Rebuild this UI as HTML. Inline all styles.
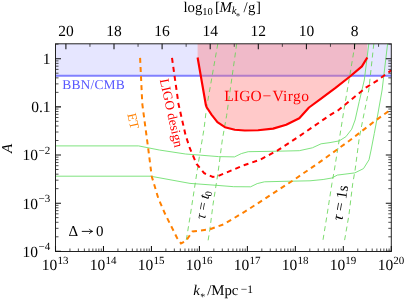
<!DOCTYPE html>
<html><head><meta charset="utf-8"><style>html,body{margin:0;padding:0;background:#fff}svg{display:block;will-change:transform}svg text{text-rendering:geometricPrecision}</style></head>
<body><svg width="407" height="302" viewBox="0 0 407 302">
<rect width="407" height="302" fill="#fff"/>
<rect x="55.5" y="43.8" width="335.8" height="31.900000000000006" fill="#e6e6ff"/>
<line x1="55.5" x2="391.3" y1="75.7" y2="75.7" stroke="#8080ff" stroke-width="2"/>
<path d="M197.6,43.8 L197.6,57.5 L205.9,105.2 L206.5,107.0 L211.5,114.6 L217.4,122.2 L224.9,127.2 L234.8,129.7 L244.8,130.5 L258.0,130.3 L273.1,128.6 L286.2,124.8 L299.3,118.3 L309.0,107.5 L320.4,99.2 L335.5,87.9 L350.6,76.0 L361.9,66.4 L367.3,57.5 L367.3,43.8Z" fill="rgb(255,120,120)" fill-opacity="0.4"/>
<path d="M55.5,145.9 L138.6,145.9 L159.3,150.0 L185.5,154.0 L200.8,155.2 L218.4,156.6 L234.5,156.9 L241.3,153.6 L248.2,151.7 L278.0,151.2 L299.3,150.7 L312.4,147.8 L321.1,143.8 L330.0,142.6 L339.2,140.9 L345.9,136.7 L351.7,129.2 L355.1,120.0 L359.2,101.7 L364.3,80.0 L368.8,43.8" fill="none" stroke="#70e070" stroke-width="0.9"/>
<path d="M55.5,176.2 L150.6,176.2 L190.0,183.4 L216.2,185.3 L233.7,186.7 L250.6,186.8 L257.2,183.6 L264.5,181.8 L285.0,181.3 L310.0,180.8 L323.1,179.5 L331.8,178.0 L337.3,175.1 L346.0,174.0 L354.8,172.9 L363.5,168.6 L369.0,159.8 L371.1,150.0 L374.3,133.4 L376.8,120.0 L382.1,90.0 L387.6,43.8" fill="none" stroke="#70e070" stroke-width="0.9"/>
<path d="M217.8,43.8 L206.4,108.7 L204.1,128.4 L199.7,154.6 L195.3,182.8 L190.3,215.3 L185.9,242.5" fill="none" stroke="#66d455" stroke-width="0.85" stroke-dasharray="5,3.8"/>
<path d="M236.7,43.8 L226.6,115.6 L222.3,140.0 L218.0,172.8 L212.9,205.3 L209.9,229.3 L207.7,243.0" fill="none" stroke="#66d455" stroke-width="0.85" stroke-dasharray="5,3.8"/>
<path d="M355.1,43.8 L349.7,75.9 L343.6,112.2 L339.2,140.0 L334.2,171.0 L331.9,183.7 L327.0,215.3 L322.5,243.0" fill="none" stroke="#66d455" stroke-width="0.85" stroke-dasharray="5,3.8"/>
<path d="M373.8,43.8 L368.8,90.0 L362.6,120.8 L359.2,138.4 L355.1,170.0 L352.7,183.7 L348.9,215.3 L344.1,243.0" fill="none" stroke="#66d455" stroke-width="0.85" stroke-dasharray="5,3.8"/>
<path d="M140.1,57.9 L142.3,104.0 L148.4,150.0 L151.7,176.2 L158.2,198.0 L164.8,213.3 L168.4,220.6 L177.1,238.0 L181.0,243.5 L185.9,241.0 L192.4,231.5 L209.9,229.3 L223.7,224.3 L244.8,211.7 L269.6,195.7 L294.4,179.5 L319.3,162.4 L348.0,141.7 L376.8,119.6 L391.6,109.1" fill="none" stroke="#ff8000" stroke-width="2.0" stroke-dasharray="5,4.1"/>
<path d="M172.0,57.9 L178.5,104.0 L185.5,134.9 L190.0,148.7 L196.6,164.0 L204.2,173.2 L212.9,176.9 L218.4,175.9 L244.6,165.0 L260.0,159.8 L278.0,150.2 L299.3,136.2 L330.0,115.1 L338.6,110.0 L365.9,87.6 L376.8,80.8 L391.3,70.3" fill="none" stroke="#f00" stroke-width="2.0" stroke-dasharray="5,4.1"/>
<path d="M197.6,57.5 L205.9,105.2 L206.5,107.0 L211.5,114.6 L217.4,122.2 L224.9,127.2 L234.8,129.7 L244.8,130.5 L258.0,130.3 L273.1,128.6 L286.2,124.8 L299.3,118.3 L309.0,107.5 L320.4,99.2 L335.5,87.9 L350.6,76.0 L361.9,66.4 L367.3,57.5" fill="none" stroke="#f00" stroke-width="2.15" stroke-linejoin="round"/>
<rect x="55.5" y="43.8" width="335.8" height="207.7" fill="none" stroke="#222" stroke-width="1"/>
<path d="M69.94,251.5v-3 M78.39,251.5v-3 M84.38,251.5v-3 M89.03,251.5v-3 M92.83,251.5v-3 M96.04,251.5v-3 M98.82,251.5v-3 M101.28,251.5v-3 M117.91,251.5v-3 M126.36,251.5v-3 M132.35,251.5v-3 M137.00,251.5v-3 M140.80,251.5v-3 M144.01,251.5v-3 M146.79,251.5v-3 M149.25,251.5v-3 M165.88,251.5v-3 M174.33,251.5v-3 M180.32,251.5v-3 M184.97,251.5v-3 M188.77,251.5v-3 M191.98,251.5v-3 M194.76,251.5v-3 M197.22,251.5v-3 M213.85,251.5v-3 M222.30,251.5v-3 M228.29,251.5v-3 M232.94,251.5v-3 M236.74,251.5v-3 M239.95,251.5v-3 M242.73,251.5v-3 M245.19,251.5v-3 M261.82,251.5v-3 M270.27,251.5v-3 M276.26,251.5v-3 M280.91,251.5v-3 M284.71,251.5v-3 M287.92,251.5v-3 M290.70,251.5v-3 M293.16,251.5v-3 M309.79,251.5v-3 M318.24,251.5v-3 M324.23,251.5v-3 M328.88,251.5v-3 M332.68,251.5v-3 M335.89,251.5v-3 M338.67,251.5v-3 M341.13,251.5v-3 M357.76,251.5v-3 M366.21,251.5v-3 M372.20,251.5v-3 M376.85,251.5v-3 M380.65,251.5v-3 M383.86,251.5v-3 M386.64,251.5v-3 M389.10,251.5v-3 M378.55,43.8v3 M330.45,43.8v3 M282.35,43.8v3 M234.25,43.8v3 M186.15,43.8v3 M138.05,43.8v3 M89.95,43.8v3 M55.5,236.81h3 M391.3,236.81h-3 M55.5,228.33h3 M391.3,228.33h-3 M55.5,222.31h3 M391.3,222.31h-3 M55.5,217.64h3 M391.3,217.64h-3 M55.5,213.83h3 M391.3,213.83h-3 M55.5,210.61h3 M391.3,210.61h-3 M55.5,207.82h3 M391.3,207.82h-3 M55.5,205.35h3 M391.3,205.35h-3 M55.5,188.66h3 M391.3,188.66h-3 M55.5,180.18h3 M391.3,180.18h-3 M55.5,174.16h3 M391.3,174.16h-3 M55.5,169.49h3 M391.3,169.49h-3 M55.5,165.68h3 M391.3,165.68h-3 M55.5,162.46h3 M391.3,162.46h-3 M55.5,159.67h3 M391.3,159.67h-3 M55.5,157.20h3 M391.3,157.20h-3 M55.5,140.51h3 M391.3,140.51h-3 M55.5,132.03h3 M391.3,132.03h-3 M55.5,126.01h3 M391.3,126.01h-3 M55.5,121.34h3 M391.3,121.34h-3 M55.5,117.53h3 M391.3,117.53h-3 M55.5,114.31h3 M391.3,114.31h-3 M55.5,111.52h3 M391.3,111.52h-3 M55.5,109.05h3 M391.3,109.05h-3 M55.5,92.36h3 M391.3,92.36h-3 M55.5,83.88h3 M391.3,83.88h-3 M55.5,77.86h3 M391.3,77.86h-3 M55.5,73.19h3 M391.3,73.19h-3 M55.5,69.38h3 M391.3,69.38h-3 M55.5,66.16h3 M391.3,66.16h-3 M55.5,63.37h3 M391.3,63.37h-3 M55.5,60.90h3 M391.3,60.90h-3 M55.5,44.21h3 M391.3,44.21h-3" stroke="#222" stroke-width="0.8" fill="none"/>
<path d="M55.50,251.5v-5.5 M103.47,251.5v-5.5 M151.44,251.5v-5.5 M199.41,251.5v-5.5 M247.38,251.5v-5.5 M295.35,251.5v-5.5 M343.32,251.5v-5.5 M391.29,251.5v-5.5 M354.50,43.8v5.5 M306.40,43.8v5.5 M258.30,43.8v5.5 M210.20,43.8v5.5 M162.10,43.8v5.5 M114.00,43.8v5.5 M65.90,43.8v5.5 M55.5,251.30h5.5 M391.3,251.30h-5.5 M55.5,203.15h5.5 M391.3,203.15h-5.5 M55.5,155.00h5.5 M391.3,155.00h-5.5 M55.5,106.85h5.5 M391.3,106.85h-5.5 M55.5,58.70h5.5 M391.3,58.70h-5.5" stroke="#111" stroke-width="1.05" fill="none"/>
<g font-family="Liberation Serif, serif" fill="#000" font-size="15.5">
<text x="354.5" y="35.6" text-anchor="middle">8</text>
<text x="306.4" y="35.6" text-anchor="middle">10</text>
<text x="258.3" y="35.6" text-anchor="middle">12</text>
<text x="210.2" y="35.6" text-anchor="middle">14</text>
<text x="162.1" y="35.6" text-anchor="middle">16</text>
<text x="114.0" y="35.6" text-anchor="middle">18</text>
<text x="65.9" y="35.6" text-anchor="middle">20</text>
<text x="55.2" y="270.4" text-anchor="middle">10<tspan font-size="11" dy="-6.4" dx="0.2">13</tspan></text>
<text x="103.2" y="270.4" text-anchor="middle">10<tspan font-size="11" dy="-6.4" dx="0.2">14</tspan></text>
<text x="151.1" y="270.4" text-anchor="middle">10<tspan font-size="11" dy="-6.4" dx="0.2">15</tspan></text>
<text x="199.1" y="270.4" text-anchor="middle">10<tspan font-size="11" dy="-6.4" dx="0.2">16</tspan></text>
<text x="247.1" y="270.4" text-anchor="middle">10<tspan font-size="11" dy="-6.4" dx="0.2">17</tspan></text>
<text x="295.1" y="270.4" text-anchor="middle">10<tspan font-size="11" dy="-6.4" dx="0.2">18</tspan></text>
<text x="343.0" y="270.4" text-anchor="middle">10<tspan font-size="11" dy="-6.4" dx="0.2">19</tspan></text>
<text x="391.0" y="270.4" text-anchor="middle">10<tspan font-size="11" dy="-6.4" dx="0.2">20</tspan></text>
<text x="50.5" y="63.7" text-anchor="end">1</text>
<text x="50.5" y="111.8" text-anchor="end">0.1</text>
<text x="50.2" y="160.4" text-anchor="end">10<tspan font-size="11" dy="-6.8" dx="0.6">−2</tspan></text>
<text x="50.2" y="208.5" text-anchor="end">10<tspan font-size="11" dy="-6.8" dx="0.6">−3</tspan></text>
<text x="50.2" y="256.7" text-anchor="end">10<tspan font-size="11" dy="-6.8" dx="0.6">−4</tspan></text>
</g>
<text font-family="Liberation Serif, serif" font-size="14.8" y="11.6"><tspan x="183.4">log</tspan><tspan font-size="10.5" x="202.2" y="14.8">10</tspan><tspan x="215" y="11.6">[</tspan><tspan font-style="italic" x="219.6">M</tspan><tspan font-size="10.8" font-style="italic" x="231.8" y="13.7">k</tspan><tspan font-size="9" x="235.8" y="18.6">*</tspan><tspan x="243.4" y="11.6">/</tspan><tspan x="248">g</tspan><tspan x="256">]</tspan></text>
<text font-family="Liberation Serif, serif" font-size="14.8" y="294.6"><tspan font-style="italic" x="193.2">k</tspan><tspan font-size="10" x="200.2" y="299.9">*</tspan><tspan x="207.2" y="294.6">/Mpc</tspan><tspan font-size="11.5" x="240.8" y="292.6">−1</tspan></text>
<text font-family="Liberation Serif, serif" font-size="15" font-style="italic" transform="translate(11.8,148.3) rotate(-90)" text-anchor="middle">A</text>
<text font-family="Liberation Serif, serif" font-size="13.5" fill="#5858ff" letter-spacing="0.15" x="62.3" y="88.7">BBN/CMB</text>
<text font-family="Liberation Serif, serif" font-size="15.5" fill="#f00" y="100.9"><tspan x="224.3" letter-spacing="0.1">LIGO</tspan><tspan x="262.4">−</tspan><tspan x="272.4" letter-spacing="0.4">Virgo</tspan></text>
<text font-family="Liberation Serif, serif" font-size="15" fill="#000" y="235.5"><tspan x="68.6">Δ</tspan><tspan x="96">0</tspan></text>
<path d="M81.8,231.4H92.3M89.3,228.9Q90.3,230.9 92.6,231.4Q90.3,231.9 89.3,233.9" fill="none" stroke="#000" stroke-width="0.9"/>
<text font-family="Liberation Serif, serif" font-size="13" fill="#ff8000" transform="translate(127.2,114.3) rotate(77)">ET</text>
<text font-family="Liberation Serif, serif" font-size="13.3" fill="#f00" transform="translate(159.8,79.8) rotate(77.6)">LIGO design</text>
<text font-family="Liberation Serif, serif" font-size="14.5" fill="#000" transform="translate(205.1,219.8) rotate(-80.5)"><tspan font-style="italic">τ</tspan> = <tspan font-style="italic">t</tspan><tspan font-size="10" dy="2.5" dx="-0.8">0</tspan></text>
<text font-family="Liberation Serif, serif" font-size="15.3" fill="#000" transform="translate(342.3,221) rotate(-80.5)"><tspan font-style="italic">τ</tspan> = 1s</text>
</svg></body></html>
